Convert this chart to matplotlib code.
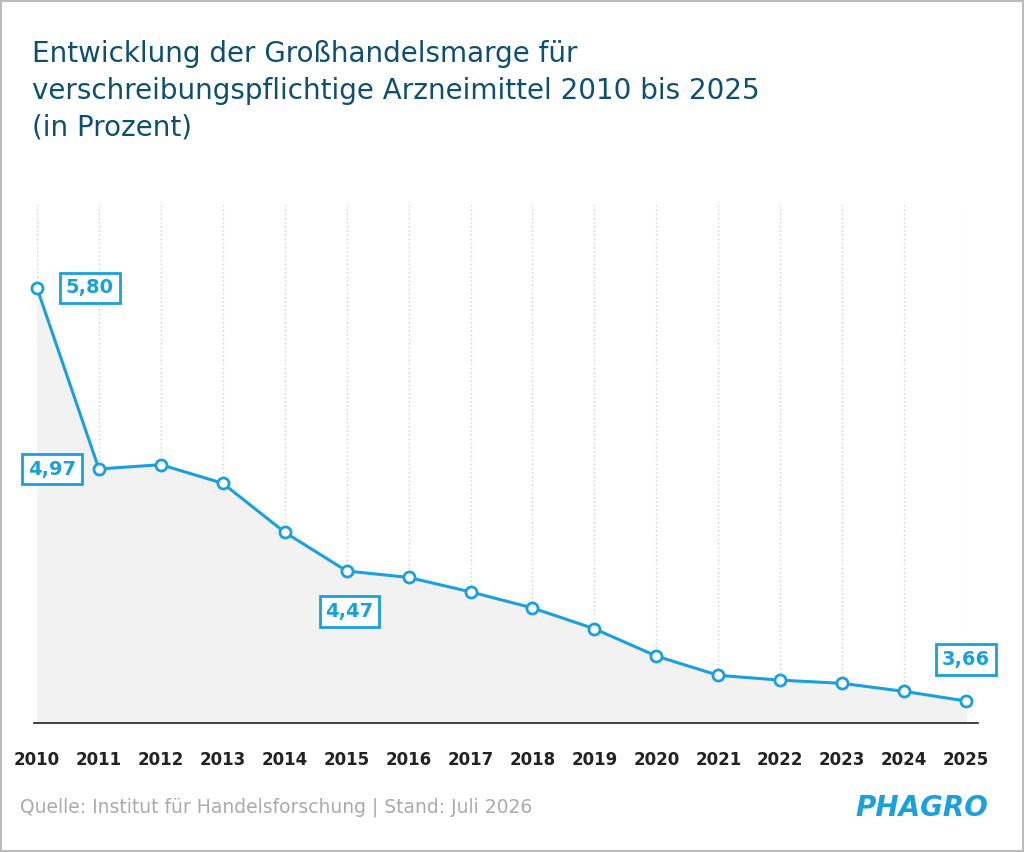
import matplotlib
matplotlib.use("Agg")
import matplotlib.pyplot as plt
import numpy as np
from matplotlib.patches import Rectangle

years = list(range(2010, 2026))
values = [5.80, 4.97, 4.99, 4.90, 4.66, 4.47, 4.43, 4.34, 4.24, 4.11, 3.94, 3.82, 3.79, 3.77, 3.72, 3.66]
labels = {2010: "5,80", 2011: "4,97", 2015: "4,47", 2025: "3,66"}

BLUE = "#1aa0dc"
TITLE = "#0d4f6e"

# piecewise scale matching the reference graphic
kv = np.array([3.52, 3.66, 4.47, 4.97, 5.80, 6.18])
kp = np.array([0.0, 22, 152, 254, 435, 518])
fwd = lambda v: np.interp(v, kv, kp)
inv = lambda p: np.interp(p, kp, kv)

fig = plt.figure(figsize=(10.24, 8.52), dpi=100)
fig.patches.append(Rectangle((0.001, 0.001), 0.998, 0.998, transform=fig.transFigure,
                             fill=False, edgecolor="#bbbbbb", lw=1.5))
W, H = 1024, 852
ax = fig.add_axes([37 / W, 1 - 723 / H, (966 - 37) / W, (723 - 205) / H])
ax.set_yscale("function", functions=(fwd, inv))
ax.set_xlim(2010, 2025)
ax.set_ylim(3.52, 6.18)

for y in years:
    ax.axvline(y, color="#cccccc", lw=1, ls=(0, (1, 2)), zorder=0)
ax.fill_between(years, values, 3.52, color="#f2f2f2", zorder=1)
ax.plot(years, values, color=BLUE, lw=2.2, marker="o", ms=8, mfc="white",
        mec=BLUE, mew=2, zorder=3, clip_on=False)
ax.plot([2010 - 0.05, 2025.2], [3.52, 3.52], color="#222222", lw=1.2, clip_on=False, zorder=4)

offs = {2010: (38, 0), 2011: (-34, 0), 2015: (2, -29), 2025: (0, 30)}
for y, t in labels.items():
    v = values[years.index(y)]
    ax.annotate(t, (y, v), xytext=offs[y], textcoords="offset points", ha="center",
                va="center", fontsize=14, fontweight="bold", color=BLUE,
                bbox=dict(boxstyle="square,pad=0.3", fc="white", ec=BLUE, lw=2), zorder=5,
                annotation_clip=False)

ax.set_yticks([])
ax.set_xticks(years)
ax.set_xticklabels([str(y) for y in years], fontsize=12, fontweight="bold", color="#222222")
ax.tick_params(axis="x", length=0, pad=20)
for s in ax.spines.values():
    s.set_visible(False)
ax.patch.set_visible(False)

fig.text(32 / W, 1 - 40 / H, "Entwicklung der Großhandelsmarge für\nverschreibungspflichtige Arzneimittel 2010 bis 2025\n(in Prozent)",
         fontsize=20, color=TITLE, va="top", ha="left", linespacing=1.4, fontweight="medium")
fig.text(20 / W, 1 - 807 / H, "Quelle: Institut für Handelsforschung | Stand: Juli 2026",
         fontsize=13.5, color="#aaaaaa", va="center", ha="left")
fig.text(988 / W, 1 - 808 / H, "PHAGRO", fontsize=20, color=BLUE, fontweight="bold",
         fontstyle="italic", va="center", ha="right")
fig.savefig("out.png", dpi=100)
